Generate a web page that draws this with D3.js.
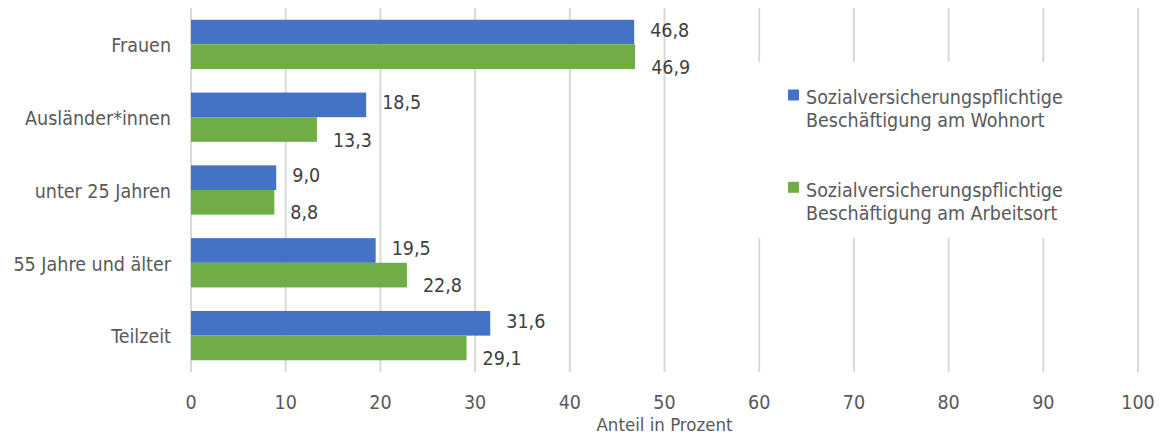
<!DOCTYPE html>
<html>
<head>
<meta charset="utf-8">
<script src="https://cdn.jsdelivr.net/npm/d3@7"></script>
<style>
  body { margin: 0; background: #fff; }
  svg { font-family: "DejaVu Sans Condensed", "Liberation Sans Narrow", sans-serif; font-size: 19.5px; }
  .grid line { stroke: #d9d9d9; stroke-width: 2; }
  .cat, .tick-label, .legend text, .title { fill: #595959; }
  .val { fill: #404040; }
</style>
</head>
<body>
<div id="chart"></div>
<script>
var categories = ["Frauen", "Ausländer*innen", "unter 25 Jahren", "55 Jahre und älter", "Teilzeit"];
var wohnort = [46.8, 18.5, 9.0, 19.5, 31.6];
var arbeitsort = [46.9, 13.3, 8.8, 22.8, 29.1];
var seriesNames = ["Sozialversicherungspflichtige Beschäftigung am Wohnort", "Sozialversicherungspflichtige Beschäftigung am Arbeitsort"];
var xTicks = [0, 10, 20, 30, 40, 50, 60, 70, 80, 90, 100];
var axisTitle = "Anteil in Prozent";

var colors = {wohnort: "#4472c4", arbeitsort: "#70ad47"};
var width = 1165, height = 434;
var plot = {left: 191, right: 1138, top: 8, bottom: 372};

var svg = d3.select("#chart").append("svg")
	.attr("width", width)
	.attr("height", height);

var x = d3.scaleLinear()
	.domain([0, 100])
	.range([plot.left, plot.right]);

var y0 = d3.scaleBand()
	.domain(categories)
	.range([plot.top, plot.bottom])
	.paddingInner(0.323)
	.paddingOuter(0.1615);

var y1 = d3.scaleBand()
	.domain(["wohnort", "arbeitsort"])
	.range([0, y0.bandwidth()]);

var data = categories.map(function(c, i){
	return {cat: c, values: [
		{key: "wohnort", value: wohnort[i]},
		{key: "arbeitsort", value: arbeitsort[i]}
	]};
});

// gridlines
svg.append("g")
		.attr("class", "grid")
	.selectAll("line").data(xTicks).enter().append("line")
		.attr("x1", function(d){ return x(d); })
		.attr("x2", function(d){ return x(d); })
		.attr("y1", plot.top)
		.attr("y2", plot.bottom);

// tick labels
svg.append("g")
	.selectAll("text").data(xTicks).enter().append("text")
		.attr("class", "tick-label")
		.attr("x", function(d){ return x(d); })
		.attr("y", 408.5)
		.attr("text-anchor", "middle")
		.text(function(d){ return d; });

svg.append("text")
	.attr("class", "title")
	.attr("x", (plot.left + plot.right) / 2)
	.attr("y", 430.5)
	.attr("text-anchor", "middle")
	.style("font-size", "18.5px")
	.text(axisTitle);

// bars
var group = svg.append("g")
	.selectAll("g").data(data).enter().append("g")
		.attr("transform", function(d){ return "translate(0," + y0(d.cat) + ")"; });

group.selectAll("rect").data(function(d){ return d.values; }).enter().append("rect")
	.attr("x", x(0))
	.attr("y", function(d){ return y1(d.key); })
	.attr("width", function(d){ return x(d.value) - x(0); })
	.attr("height", y1.bandwidth())
	.style("fill", function(d){ return colors[d.key]; });

// value labels (green ones sit a bit lower, like the original)
group.selectAll("text.val").data(function(d){ return d.values; }).enter().append("text")
	.attr("class", "val")
	.attr("x", function(d){ return x(d.value) + 16; })
	.attr("y", function(d){ return y1(d.key) + y1.bandwidth() / 2 + (d.key == "wohnort" ? 4.6 : 17.1); })
	.text(function(d){ return d3.format(".1f")(d.value).replace(".", ","); });

// category labels
svg.append("g")
	.selectAll("text").data(categories).enter().append("text")
		.attr("class", "cat")
		.attr("x", 171)
		.attr("y", function(d){ return y0(d) + y0.bandwidth() / 2 + 7.8; })
		.attr("text-anchor", "end")
		.text(function(d){ return d; });

// legend, white box hides the gridlines behind it
var legend = svg.append("g").attr("class", "legend");
legend.append("rect")
	.attr("x", 752).attr("y", 62)
	.attr("width", 383).attr("height", 176)
	.style("fill", "#fff");

var items = legend.selectAll("g").data(["wohnort", "arbeitsort"]).enter().append("g")
	.attr("transform", function(d, i){ return "translate(788," + (89.5 + i * 92.3) + ")"; });

items.append("rect")
	.attr("width", 11).attr("height", 11)
	.style("fill", function(d){ return colors[d]; });

items.each(function(d, i){
	var words = seriesNames[i].split(" ");
	var t = d3.select(this).append("text");
	t.append("tspan").attr("x", 18).attr("y", 14.8).text(words[0]);
	t.append("tspan").attr("x", 18).attr("y", 37.8).text(words.slice(1).join(" "));
});
</script>
</body>
</html>
